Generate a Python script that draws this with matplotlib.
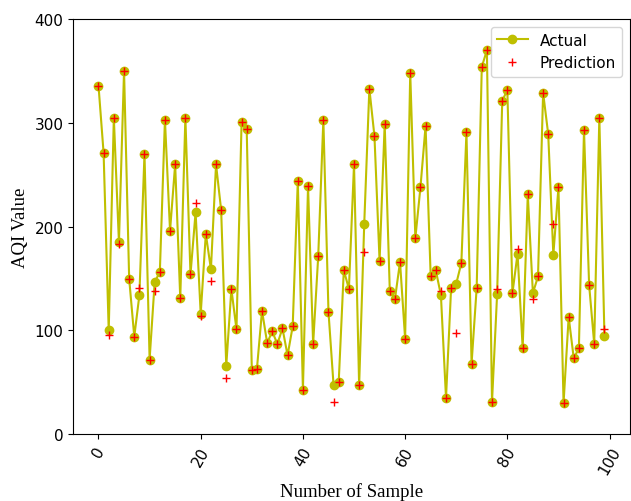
import matplotlib.pyplot as plt

plt.rcParams['font.size'] = 11

# AQI values per sample
actual = [336, 271, 100, 305, 185, 350, 150, 94, 134, 270,
          72, 147, 156, 303, 196, 260, 131, 305, 154, 214,
          116, 193, 159, 260, 216, 66, 140, 101, 301, 294,
          62, 63, 119, 88, 99, 87, 102, 76, 104, 244,
          43, 239, 87, 172, 303, 118, 47, 50, 158, 140,
          260, 47, 203, 333, 287, 167, 299, 138, 130, 166,
          92, 348, 189, 238, 297, 152, 158, 134, 35, 141,
          145, 165, 291, 68, 141, 354, 370, 31, 135, 321,
          332, 136, 174, 83, 231, 136, 152, 329, 289, 173,
          238, 30, 113, 73, 83, 293, 144, 87, 305, 95]
prediction = [336, 271, 96, 305, 183, 350, 150, 94, 141, 270,
              72, 138, 156, 303, 196, 260, 131, 305, 154, 223,
              114, 193, 148, 260, 216, 54, 140, 101, 301, 294,
              62, 63, 119, 88, 99, 87, 102, 76, 104, 244,
              43, 239, 87, 172, 303, 118, 31, 50, 158, 140,
              260, 47, 176, 333, 287, 167, 299, 138, 130, 166,
              92, 348, 189, 238, 297, 152, 158, 138, 35, 141,
              98, 165, 291, 68, 141, 354, 370, 31, 140, 321,
              332, 136, 178, 83, 231, 130, 152, 329, 289, 203,
              238, 30, 113, 73, 83, 293, 144, 87, 305, 101]

fig = plt.figure(figsize=(6.31, 5.02), dpi=100)
fig.subplots_adjust(left=0.116, right=0.998, top=0.96, bottom=0.133)

plt.plot(actual, 'y-o', label='Actual')
plt.plot(prediction, 'r+', label='Prediction')
plt.ylim(0, 400)
plt.yticks(range(0, 401, 100))
plt.xticks(rotation=60)
plt.xlabel('Number of Sample', fontfamily='Liberation Serif', fontsize=13.5)
plt.ylabel('AQI Value', fontfamily='Liberation Serif', fontsize=13.5)
plt.legend(loc='upper right')
plt.savefig('out.png')
